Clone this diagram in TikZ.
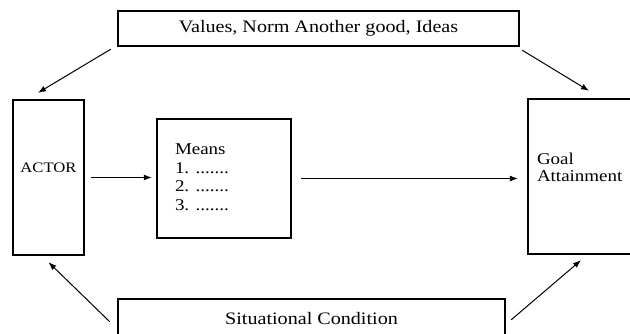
\documentclass[tikz,border=0pt]{standalone}
\usepackage{fontspec}
\setmainfont[FakeStretch=1.15]{Liberation Serif}
\usepackage{tikz}
\usetikzlibrary{arrows.meta,positioning,calc}

\begin{document}
\begin{tikzpicture}[
      x=1pt,
      y=-1pt,
      line join=miter,
      box/.style={draw=black, line width=2.4pt, rectangle, inner sep=0pt},
      flow/.style={draw=black, line width=1pt,
        -{Latex[length=8pt,width=6pt]}},
      boxtext/.style={inner sep=0pt, font=\fontsize{16.5}{18.5}\selectfont}
    ]
      % Page frame; the goal and condition boxes run over its edges.
      \useasboundingbox (0,0) rectangle (630,334);
      \clip (0,0) rectangle (630,334);

      % Upper and lower banners.
      \node[box, minimum width=401pt, minimum height=35pt,
            font=\fontsize{17.5}{20}\selectfont] (values) at (318.5,28.5)
        {Values, Norm Another good, Ideas};
      \node[box, minimum width=387pt, minimum height=40pt,
            font=\fontsize{17.5}{20}\selectfont] (situation) at (311.5,319)
        {Situational Condition};

      % Middle row: actor, means, goal.
      \node[box, minimum width=71pt, minimum height=155pt] (actor)
        at (48.5,177.5) {};
      \node[box, minimum width=134pt, minimum height=119pt] (means)
        at (224,178.5) {};
      \node[box, minimum width=112pt, minimum height=155pt] (goal)
        at (584,176.5) {};

      \node[boxtext, anchor=base, font=\fontsize{14.5}{16}\selectfont]
        (actorname) at ([yshift=5pt]actor.center) {ACTOR};
      \node[boxtext, anchor=north west, align=left] (meanslist)
        at ($(means.north west)+(19,26)$)
        {Means\\1. .......\\2. .......\\3. .......};
      \node[boxtext, anchor=north west, align=left,
            font=\fontsize{16.5}{16.7}\selectfont] (goalname)
        at ($(goal.north west)+(10,55)$) {Goal\\Attainment};

      % Flow along the middle row.
      \draw[flow] ([xshift=6pt]actor.east) --
        ($(means.west |- actor.east)+(-4,0)$);
      \draw[flow] ($(means.east)+(9,0)$) --
        ($(goal.west |- means.east)+(-9,0)$);

      % Diagonal influences from the banners.
      \draw[flow] ($(values.south west)+(-6,2)$) --
        ($(actor.north)+(-10.5,-6)$);
      \draw[flow] ($(values.south east)+(2,3)$) --
        ($(goal.north)+(5,-7)$);
      \draw[flow] ($(situation.north west)+(-7,24)$) --
        ($(actor.south)+(0,6)$);
      \draw[flow] ($(situation.north east)+(5,22)$) --
        ($(goal.south)+(-3,5)$);
    \end{tikzpicture}
\end{document}
